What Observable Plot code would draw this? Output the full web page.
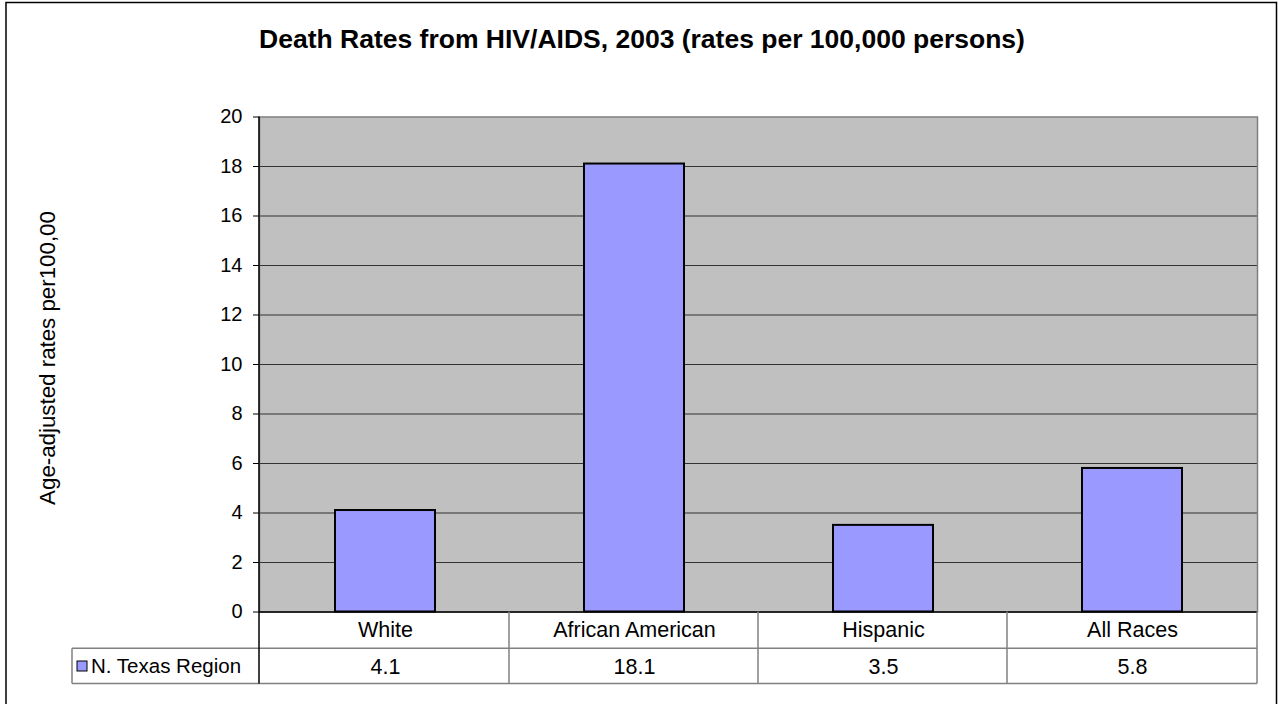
<!DOCTYPE html>
<html>
<head>
<meta charset="utf-8">
<script src="https://cdn.jsdelivr.net/npm/d3@7"></script>
<script src="https://cdn.jsdelivr.net/npm/@observablehq/plot@0.6"></script>
<style>
  html, body { margin: 0; padding: 0; background: #fff; }
  svg { display: block; }
</style>
</head>
<body>
<div id="chart"></div>
<script>
const categories = ["White", "African American", "Hispanic", "All Races"];
const values = [4.1, 18.1, 3.5, 5.8];
const seriesName = "N. Texas Region";
const yTicks = [0, 2, 4, 6, 8, 10, 12, 14, 16, 18, 20];
const gridTicks = [2, 4, 6, 8, 10, 12, 14, 16, 18];
const titleText = "Death Rates from HIV/AIDS, 2003 (rates per 100,000 persons)";
const yLabel = "Age-adjusted rates per100,00";

const data = categories.map((c, i) => ({category: c, value: values[i]}));

const W = 1278, H = 704;
const mL = 259, mR = 21, mT = 116.5, mB = 92.5;
const FONT = "'Liberation Sans', Arial, Helvetica, sans-serif";

const chart = Plot.plot({
  width: W, height: H,
  marginLeft: mL, marginRight: mR, marginTop: mT, marginBottom: mB,
  style: {fontFamily: FONT, background: "#fff", color: "#000", overflow: "visible"},
  x: {domain: categories, paddingInner: 0.6, paddingOuter: 0.3, axis: null},
  y: {domain: [0, 20], axis: null},
  marks: [
    Plot.frame({fill: "#C0C0C0", stroke: null}),
    Plot.gridY(gridTicks, {stroke: "#222", strokeOpacity: 0.9, strokeWidth: 1}),
    Plot.frame({stroke: "#808080", strokeWidth: 1.5}),
    Plot.barY(data, {x: "category", y: "value", fill: "#9999FF", stroke: "#000", strokeWidth: 2}),
    Plot.ruleY([0], {stroke: "#000", strokeWidth: 1.5}),
    Plot.axisY({ticks: yTicks, tickSize: 6, tickPadding: 11, fontSize: 20, label: null, tickFormat: d => String(d)}),
    Plot.text(categories, {x: d => d, frameAnchor: "bottom", lineAnchor: "middle", dy: 18, fontSize: 21.5, fill: "#000"}),
    Plot.text(data, {x: "category", text: d => d.value.toFixed(1), frameAnchor: "bottom", lineAnchor: "middle", dy: 55, fontSize: 21.5, fill: "#000"})
  ]
});

document.getElementById("chart").appendChild(chart);

const svg = d3.select(chart);
const xs = chart.scale("x");
const plotRight = W - mR;
const y0 = H - mB;
const row1 = 648.3, row2 = 683.5, tableLeft = 72;

// band boundaries from the plot's x scale
let bounds;
if (xs && typeof xs.apply === "function" && xs.bandwidth != null) {
  const step = xs.bandwidth / (1 - xs.paddingInner);
  bounds = categories.map(c => xs.apply(c) - (step - xs.bandwidth) / 2);
  bounds.push(bounds[bounds.length - 1] + step);
} else {
  const step = (plotRight - mL) / categories.length;
  bounds = d3.range(categories.length + 1).map(i => mL + i * step);
}

const g = svg.append("g").attr("fill", "none");
// table vertical lines
bounds.slice(1).forEach(bx => {
  g.append("line").attr("x1", bx).attr("x2", bx).attr("y1", y0).attr("y2", row2)
    .attr("stroke", "#808080").attr("stroke-width", 1.5);
});
// table horizontal lines
[row1, row2].forEach(ry => {
  g.append("line").attr("x1", tableLeft).attr("x2", plotRight).attr("y1", ry).attr("y2", ry)
    .attr("stroke", "#808080").attr("stroke-width", 1.5);
});
g.append("line").attr("x1", tableLeft).attr("x2", tableLeft).attr("y1", row1).attr("y2", row2)
  .attr("stroke", "#808080").attr("stroke-width", 1.5);
// y axis line
g.append("line").attr("x1", mL).attr("x2", mL).attr("y1", mT).attr("y2", row2)
  .attr("stroke", "#000").attr("stroke-width", 1.5);

// legend key in table
svg.append("rect").attr("x", tableLeft + 5).attr("y", 661).attr("width", 10).attr("height", 10)
  .attr("fill", "#9999FF").attr("stroke", "#000").attr("stroke-width", 1);
svg.append("text").attr("x", tableLeft + 19).attr("y", 673).attr("font-size", 20.5)
  .attr("text-anchor", "start")
  .attr("font-family", FONT).attr("fill", "#000").text(seriesName);

// title
svg.append("text").attr("x", 642).attr("y", 48).attr("text-anchor", "middle")
  .attr("font-size", 26.5).attr("font-weight", "bold").attr("font-family", FONT)
  .attr("fill", "#000").text(titleText);

// y axis label
svg.append("text").attr("transform", "translate(55,358) rotate(-90)").attr("text-anchor", "middle")
  .attr("font-size", 22.3).attr("font-family", FONT).attr("fill", "#000").text(yLabel);

// outer border
svg.append("rect").attr("x", 6).attr("y", 2.5).attr("width", 1270.5).attr("height", 710)
  .attr("fill", "none").attr("stroke", "#000").attr("stroke-width", 1.5);
</script>
</body>
</html>
